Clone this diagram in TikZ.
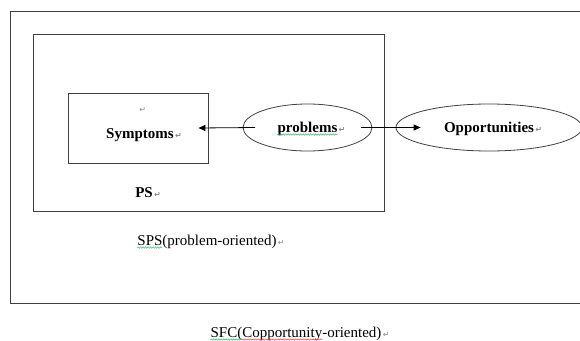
\documentclass[tikz,border=0pt]{standalone}
\usepackage{fontspec}
\setmainfont{Liberation Serif}
\newfontfamily\dejavu{DejaVu Sans}
\usetikzlibrary{arrows.meta,shapes.geometric,decorations.pathmorphing}
\definecolor{linegray}{HTML}{404040}
\definecolor{retgray}{HTML}{8A8A8A}
\definecolor{spellgreen}{HTML}{3CB371}
\definecolor{spellred}{HTML}{E05050}
\newcommand{\retmk}{{\dejavu\fontsize{8}{9}\selectfont\color{retgray}\,↵}}
\begin{document}
\begin{tikzpicture}[x=1pt,y=-1pt,
  box/.style={draw=linegray,line width=0.9pt,rectangle,inner sep=0pt},
  oval/.style={draw=linegray,line width=0.8pt,ellipse,inner sep=0pt},
  lbl/.style={font=\fontsize{15}{18}\selectfont,inner sep=0pt,anchor=base},
  blbl/.style={lbl,font=\fontsize{15}{18}\selectfont\bfseries},
  arr/.style={-{Triangle[length=7pt,width=6pt]},line width=0.8pt,draw=black},
  wavyg/.style={draw=spellgreen,line width=0.5pt,decorate,decoration={snake,segment length=2.5pt,amplitude=0.7pt}},
  wavyr/.style={draw=spellred,line width=0.5pt,decorate,decoration={snake,segment length=2.5pt,amplitude=0.7pt}}]
\useasboundingbox (0,0) rectangle (580,340);
\clip (0,0) rectangle (580,340);
\fill[white] (0,0) rectangle (580,340);
% frames
\node[box,minimum width=580pt,minimum height=292pt] (sfc) at (300,157) {};
\node[box,minimum width=351pt,minimum height=177pt] (ps) at (208.5,122.5) {};
\node[box,minimum width=140pt,minimum height=70pt] (sym) at (138,128) {};
\node[oval,minimum width=129pt,minimum height=47pt] (prob) at (307.5,127.5) {};
\node[oval,minimum width=186pt,minimum height=47pt] (opp) at (489,127.5) {};
% texts
\node[inner sep=0pt] (symret) at (142,110) {\retmk};
\node[blbl] (symtxt) at (140,138) {Symptoms\rlap{\retmk}};
\node[blbl] (ptxt) at (307.5,132) {problems\rlap{\retmk}};
\node[blbl] (otxt) at (489,132) {Opportunities\rlap{\retmk}};
\node[blbl] (pstxt) at (144,197) {PS\rlap{\retmk}};
\node[lbl] (spstxt) at (207,245) {SPS(problem-oriented)\rlap{\retmk}};
\node[lbl] (sfctxt) at (296,337) {SFC(Copportunity-oriented)\rlap{\retmk}};
% spell-check underlines
\draw[wavyg] ([yshift=-2.5pt]ptxt.base west) -- ([yshift=-2.5pt]ptxt.base east);
\draw[wavyg] ([yshift=-2.5pt]spstxt.base west) -- ([xshift=25pt,yshift=-2.5pt]spstxt.base west);
\draw[wavyg] ([yshift=-2.5pt]sfctxt.base west) -- ([xshift=32pt,yshift=-2.5pt]sfctxt.base west);
\draw[wavyr] ([xshift=32pt,yshift=-2.5pt]sfctxt.base west) -- ([xshift=112pt,yshift=-2.5pt]sfctxt.base west);
% connectors
\draw[arr] ([xshift=-52.5pt]prob.center) -- ([xshift=-10pt]sym.east);
\draw[arr] ([xshift=53.5pt]prob.center) -- ([xshift=25pt]opp.west);
\end{tikzpicture}
\end{document}
